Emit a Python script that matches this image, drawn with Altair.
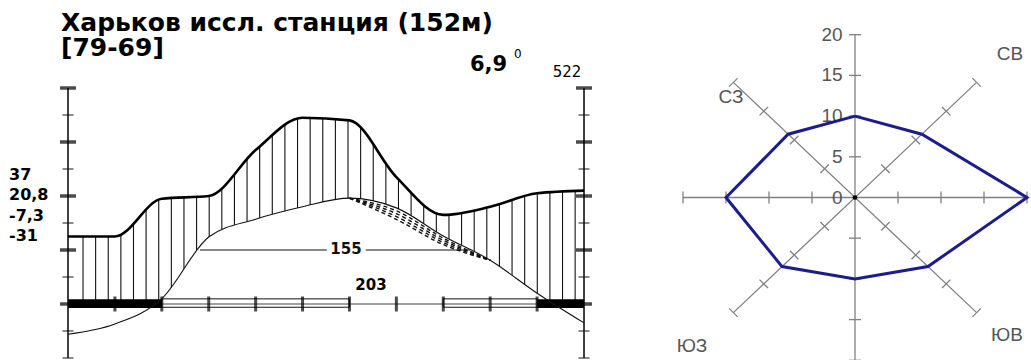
import altair as alt
import numpy as np
import pandas as pd

# ---------------- Walter–Lieth climate diagram, Kharkiv ----------------
MONTHS = list(range(12))  # 0 = January ... 11 = December
TEMP_C = [-5.6, -3.7, 1.0, 12.4, 15.7, 18.0, 19.6, 17.8, 12.6, 8.1, 2.0, -3.5]
PRECIP_MM = [25, 25, 39, 40, 57, 69, 68, 47, 33, 36, 41, 42]
SURE_FROST = [(0, 2), (10, 11)]     # mean daily minimum below 0 °C
LIKELY_FROST = [(2, 6), (8, 10)]    # absolute minimum below 0 °C
WARM_SPAN = (2.81, 8.57)            # mean temperature above 10 °C
WARM_DAYS = "155"
FROST_FREE_DAYS = "203"
STATION = "Харьков иссл. станция (152м)"
YEARS = "[79-69]"
EXTREMES = ["37", "20,8", "-7,3", "-31"]
MEAN_TEMP = "6,9"
TEMP_TICKS = list(range(-10, 45, 5))

# ---------------- wind rose ----------------
WIND_BEARINGS = [0, 45, 90, 135, 180, 225, 270, 315]
WIND_FREQ = [10, 11, 20, 12, 10, 12, 15, 11]
ROSE_TICKS = [0, 5, 10, 15, 20]
ROSE_AXES = [0, 45, 90, 135]        # axis directions, degrees from horizontal
CORNER_NAMES = ["СВ", "СЗ", "ЮЗ", "ЮВ"]

# ---------------- layout ----------------
LEFT_W, RIGHT_W, H = 630, 401, 360
X0_PX, MONTH_PX = 68, 46.91         # January position and month spacing
ZERO_PX, DEG_PX = 304, 5.4          # 0 °C position and pixels per degree
ROSE_CX, ROSE_CY = 225, 197.5       # rose centre inside its panel
ROSE_SX, ROSE_SY = 8.6, 8.14        # pixels per unit

FONT = "DejaVu Sans"
ROSE_FONT = "Liberation Sans"
INK = "#111111"
GREY = "#808080"

T_LOW, T_HIGH = (ZERO_PX - H) / DEG_PX, ZERO_PX / DEG_PX
x_m = alt.Scale(domain=[-X0_PX / MONTH_PX, (LEFT_W - X0_PX) / MONTH_PX], nice=False, zero=False)
y_t = alt.Scale(domain=[T_LOW, T_HIGH], nice=False, zero=False)


def mx(f):
    return alt.X(f"{f}:Q", scale=x_m, axis=None)


def ty(f):
    return alt.Y(f"{f}:Q", scale=y_t, axis=None)


clim = pd.DataFrame({"month": MONTHS, "temp": TEMP_C, "precip": PRECIP_MM})
clim["wet"] = clim["precip"] / 2    # 10 °C = 20 mm
clim["dry"] = clim["precip"] / 3    # 10 °C = 30 mm

# vertical hatching of the humid season, trimmed by white masks
hatch = pd.DataFrame({"month": 0.32 + 0.269 * np.arange(40)})
hatch_layer = (
    alt.Chart(hatch)
    .mark_rule(color=INK, strokeWidth=1.1)
    .transform_calculate(top="40", base="0")
    .encode(x=mx("month"), y=ty("top"), y2=alt.Y2("base:Q"))
)
mask_wet = (
    alt.Chart(clim)
    .mark_area(color="white", opacity=1, interpolate="monotone")
    .transform_calculate(ceiling=str(T_HIGH))
    .encode(x=mx("month"), y=ty("wet"), y2=alt.Y2("ceiling:Q"))
)
mask_cold = (
    alt.Chart(clim)
    .mark_area(color="white", opacity=1, interpolate="monotone")
    .transform_calculate(floor=str(T_LOW))
    .encode(x=mx("month"), y=ty("temp"), y2=alt.Y2("floor:Q"))
)

# dashed texture of the dry spell (precipitation curve at 1:3 below temperature)
arid = clim.iloc[6:10].copy()
arid["low"] = np.minimum(arid["temp"], arid["dry"])
bands = []
for f in (0.25, 0.5, 0.75, 1.0):
    b = arid[["month"]].copy()
    b["level"] = arid["temp"] + f * (arid["low"] - arid["temp"])
    b["band"] = f
    bands.append(b)
arid_bands = pd.concat(bands, ignore_index=True)
arid_layer = alt.Chart(arid_bands).mark_line(
    color=INK, strokeWidth=1.4, strokeDash=[4, 3], interpolate="monotone"
).encode(x=mx("month"), y=ty("level"), detail="band:N")

# 10 °C line with the length of the warm season
warm = pd.DataFrame({"start": [WARM_SPAN[0]], "end": [WARM_SPAN[1]], "level": [10]})
warm_layer = alt.Chart(warm).mark_rule(color=INK, strokeWidth=1).encode(
    x=mx("start"), x2=alt.X2("end:Q"), y=ty("level")
)
warm_text = pd.DataFrame({"label": [WARM_DAYS]})
warm_halo = alt.Chart(warm_text).mark_text(
    font=FONT, fontSize=15, fontWeight="bold", color="white", stroke="white", strokeWidth=10
).encode(x=alt.value(346), y=alt.value(249), text="label:N")
warm_label = alt.Chart(warm_text).mark_text(
    font=FONT, fontSize=15, fontWeight="bold", color=INK
).encode(x=alt.value(346), y=alt.value(249), text="label:N")

# frost bar along the 0 °C line
likely = pd.DataFrame(LIKELY_FROST, columns=["start", "end"])
sure = pd.DataFrame(SURE_FROST, columns=["start", "end"])
likely_layer = (
    alt.Chart(likely)
    .mark_rect(fill="white", stroke=INK, strokeWidth=1)
    .transform_calculate(hi="0.95", lo="-0.6")
    .encode(x=mx("start"), x2=alt.X2("end:Q"), y=ty("hi"), y2=alt.Y2("lo:Q"))
)
base = pd.DataFrame({"start": [MONTHS[0]], "end": [MONTHS[-1]], "level": [0]})
base_layer = alt.Chart(base).mark_rule(color="#444444", strokeWidth=1.2).encode(
    x=mx("start"), x2=alt.X2("end:Q"), y=ty("level")
)
sure_layer = (
    alt.Chart(sure)
    .mark_rect(color="black")
    .transform_calculate(hi="0.9", lo="-0.75")
    .encode(x=mx("start"), x2=alt.X2("end:Q"), y=ty("hi"), y2=alt.Y2("lo:Q"))
)
month_ticks = (
    alt.Chart(pd.DataFrame({"month": MONTHS[1:-1]}))
    .mark_tick(orient="vertical", size=15, thickness=3, color="black")
    .transform_calculate(level="0")
    .encode(x=mx("month"), y=ty("level"))
)

# temperature / precipitation scales at both sides
sides = [MONTHS[0], MONTHS[-1]]
axis_lines = alt.Chart(pd.DataFrame({"month": sides, "lo": [TEMP_TICKS[0]] * 2, "hi": [TEMP_TICKS[-1]] * 2})).mark_rule(
    color=INK, strokeWidth=1.6
).encode(x=mx("month"), y=ty("lo"), y2=alt.Y2("hi:Q"))
ticks = pd.DataFrame([(s, t) for s in sides for t in TEMP_TICKS], columns=["month", "level"])
ticks["major"] = (ticks["level"] % 10 == 0) & (ticks["level"] >= 0)
major_ticks = alt.Chart(ticks[ticks["major"]]).mark_tick(
    orient="horizontal", size=16, thickness=3.5, color="black"
).encode(x=mx("month"), y=ty("level"))
minor_ticks = alt.Chart(ticks[~ticks["major"]]).mark_tick(
    orient="horizontal", size=11, thickness=1.4, color=INK
).encode(x=mx("month"), y=ty("level"))

temp_line = alt.Chart(clim).mark_line(color=INK, strokeWidth=1.1, interpolate="monotone").encode(
    x=mx("month"), y=ty("temp")
)
precip_line = alt.Chart(clim).mark_line(color="black", strokeWidth=2.6, interpolate="monotone").encode(
    x=mx("month"), y=ty("wet")
)

title = alt.Chart(pd.DataFrame({"label": [STATION + "\n" + YEARS]})).mark_text(
    font=FONT, fontSize=25, fontWeight="bold", align="left", baseline="alphabetic",
    lineBreak="\n", lineHeight=25, color="black"
).encode(x=alt.value(61), y=alt.value(31), text="label:N")
extremes = alt.Chart(pd.DataFrame({"label": ["\n".join(EXTREMES)]})).mark_text(
    font=FONT, fontSize=16, fontWeight="bold", align="left", baseline="alphabetic",
    lineBreak="\n", lineHeight=20.3, color="black"
).encode(x=alt.value(9), y=alt.value(180), text="label:N")
mean_t = alt.Chart(pd.DataFrame({"label": [MEAN_TEMP]})).mark_text(
    font=FONT, fontSize=21, fontWeight="bold", align="left", baseline="alphabetic", color="black"
).encode(x=alt.value(470), y=alt.value(71), text="label:N")
degree = alt.Chart(pd.DataFrame({"label": ["0"]})).mark_text(
    font=FONT, fontSize=12, align="left", baseline="alphabetic", color="black"
).encode(x=alt.value(514), y=alt.value(58), text="label:N")
annual = alt.Chart(pd.DataFrame({"label": [str(sum(PRECIP_MM))]})).mark_text(
    font=FONT, fontSize=15, align="center", baseline="alphabetic", color="black"
).encode(x=alt.value(567), y=alt.value(77), text="label:N")
frost_free = alt.Chart(pd.DataFrame({"label": [FROST_FREE_DAYS]})).mark_text(
    font=FONT, fontSize=15, fontWeight="bold", align="center", baseline="alphabetic", color="black"
).encode(x=alt.value(371), y=alt.value(290), text="label:N")

climate = alt.layer(
    hatch_layer, mask_wet, mask_cold, arid_layer, warm_layer, warm_halo, warm_label,
    likely_layer, base_layer, sure_layer, month_ticks,
    axis_lines, major_ticks, minor_ticks, temp_line, precip_line,
    title, extremes, mean_t, degree, annual, frost_free,
).properties(width=LEFT_W, height=H)

# ---------------- wind rose panel ----------------
x_r = alt.Scale(domain=[-ROSE_CX / ROSE_SX, (RIGHT_W - ROSE_CX) / ROSE_SX], nice=False, zero=False)
y_r = alt.Scale(domain=[-(H - ROSE_CY) / ROSE_SY, ROSE_CY / ROSE_SY], nice=False, zero=False)


def rx(f):
    return alt.X(f"{f}:Q", scale=x_r, axis=None)


def ry(f):
    return alt.Y(f"{f}:Q", scale=y_r, axis=None)


reach = ROSE_TICKS[-1]
spokes = []
marks = []
for a in ROSE_AXES:
    ca, sa = np.cos(np.radians(a)), np.sin(np.radians(a))
    spokes.append((-reach * ca, -reach * sa, reach * ca, reach * sa))
    for d in ROSE_TICKS[1:]:
        for sgn in (-1, 1):
            cx, cy = sgn * d * ca, sgn * d * sa
            hx, hy = -sa * 6 / ROSE_SX, ca * 6 / ROSE_SY
            marks.append((cx - hx, cy - hy, cx + hx, cy + hy))
spoke_df = pd.DataFrame(spokes, columns=["x", "y", "x2", "y2"])
mark_df = pd.DataFrame(marks, columns=["x", "y", "x2", "y2"])

spoke_layer = alt.Chart(spoke_df).mark_rule(color=GREY, strokeWidth=1.3).encode(
    x=rx("x"), y=ry("y"), x2=alt.X2("x2:Q"), y2=alt.Y2("y2:Q")
)
tick_layer = alt.Chart(mark_df).mark_rule(color=GREY, strokeWidth=1.3).encode(
    x=rx("x"), y=ry("y"), x2=alt.X2("x2:Q"), y2=alt.Y2("y2:Q")
)
tick_labels = (
    alt.Chart(pd.DataFrame({"value": ROSE_TICKS}))
    .mark_text(font=ROSE_FONT, fontSize=19, align="right", baseline="middle", color="#555555")
    .transform_calculate(side="-1.45")
    .encode(x=rx("side"), y=ry("value"), text="value:Q")
)

corner_pos = [(380, 54), (101, 97), (62, 346), (377, 335)]
corner_layers = [
    alt.Chart(pd.DataFrame({"label": [name]})).mark_text(
        font=ROSE_FONT, fontSize=19, align="center", baseline="middle", color="#555555"
    ).encode(x=alt.value(px), y=alt.value(py), text="label:N")
    for name, (px, py) in zip(CORNER_NAMES, corner_pos)
]

rose = pd.DataFrame({
    "bearing": WIND_BEARINGS + WIND_BEARINGS[:1],
    "freq": WIND_FREQ + WIND_FREQ[:1],
})
rose["step"] = range(len(rose))
rose_layer = (
    alt.Chart(rose)
    .mark_line(color="#1c1c8c", strokeWidth=3, strokeJoin="miter", clip=True)
    .transform_calculate(
        px="datum.freq * sin(datum.bearing * PI / 180)",
        py="datum.freq * cos(datum.bearing * PI / 180)",
    )
    .encode(x=rx("px"), y=ry("py"), order="step:Q")
)
centre = (
    alt.Chart(pd.DataFrame({"freq": [ROSE_TICKS[0]]}))
    .mark_point(filled=True, size=22, color="black", opacity=1)
    .encode(x=rx("freq"), y=ry("freq"))
)

wind = alt.layer(
    spoke_layer, tick_layer, tick_labels, *corner_layers, rose_layer, centre
).properties(width=RIGHT_W, height=H)

chart = (
    alt.hconcat(climate, wind, spacing=0, bounds="flush")
    .properties(padding=0)
    .configure_view(strokeWidth=0)
)

chart.save("out.html", embed_options={"renderer": "svg", "actions": False})
